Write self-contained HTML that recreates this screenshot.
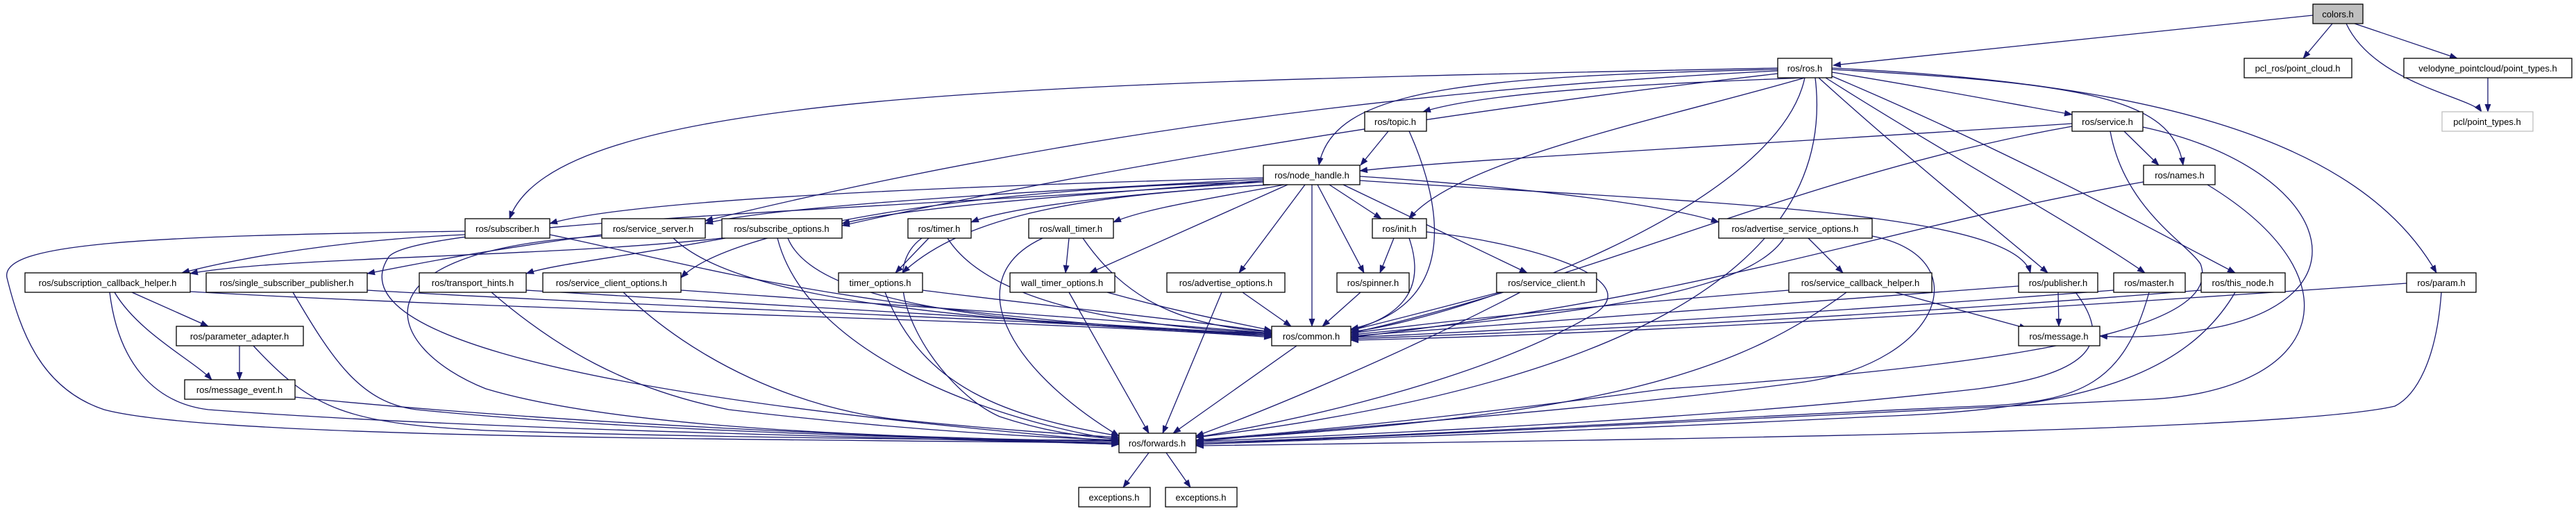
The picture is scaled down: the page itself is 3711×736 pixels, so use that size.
<!DOCTYPE html>
<html><head><meta charset="utf-8"><style>
html,body{margin:0;padding:0;background:#fff;width:3711px;height:736px;overflow:hidden}
svg text{font-family:"Liberation Sans",sans-serif;font-size:13px;fill:#000}
.e path{fill:none;stroke:#191970;stroke-width:1.3}
rect{fill:#fff;stroke:#000;stroke-width:1.3}
</style></head><body>
<svg width="3711" height="736" xmlns="http://www.w3.org/2000/svg">
<defs><marker id="a" markerWidth="12" markerHeight="9" refX="11" refY="4.5" orient="auto" markerUnits="userSpaceOnUse"><path d="M0,0 L12,4.5 L0,9 z" fill="#191970"/></marker></defs>
<g class="e">
<path marker-end="url(#a)" d="M3332,22 L2641,94"/>
<path marker-end="url(#a)" d="M3360,34 L3318,84"/>
<path marker-end="url(#a)" d="M3392,34 L3540,84"/>
<path marker-end="url(#a)" d="M3380,34 C3420,120 3560,140 3575,161"/>
<path marker-end="url(#a)" d="M3584,112 L3584,161"/>
<!-- ros.h -->
<path marker-end="url(#a)" d="M2600,112 C2400,120 2150,130 2050,161"/>
<path marker-end="url(#a)" d="M2639,104 C2800,130 2900,150 2985,165"/>
<path marker-end="url(#a)" d="M2561,100 C2100,110 1920,130 1900,238"/>
<path marker-end="url(#a)" d="M2639,100 C3000,120 3130,140 3145,238"/>
<path marker-end="url(#a)" d="M2561,98 C1500,120 800,130 734,315"/>
<path marker-end="url(#a)" d="M2561,102 C1800,140 1300,250 1016,318"/>
<path marker-end="url(#a)" d="M2561,106 C2000,170 1500,260 1213,325"/>
<path marker-end="url(#a)" d="M2600,112 C2400,170 2100,230 2030,315"/>
<path marker-end="url(#a)" d="M2620,112 C2750,230 2900,350 2950,393"/>
<path marker-end="url(#a)" d="M2630,112 C2800,220 3000,330 3090,393"/>
<path marker-end="url(#a)" d="M2635,108 C2900,220 3100,330 3220,393"/>
<path marker-end="url(#a)" d="M2639,98 C3100,120 3400,200 3510,393"/>
<path marker-end="url(#a)" d="M2600,112 C2560,300 2100,460 1946,478"/>
<path marker-end="url(#a)" d="M2615,112 C2650,400 2300,560 1723,630"/>
<!-- topic -->
<path marker-end="url(#a)" d="M2000,189 L1960,238"/>
<path marker-end="url(#a)" d="M2030,189 C2080,300 2100,440 1946,474"/>
<!-- service -->
<path marker-end="url(#a)" d="M2985,178 C2500,210 2100,230 1959,246"/>
<path marker-end="url(#a)" d="M3060,189 L3110,238"/>
<path marker-end="url(#a)" d="M2985,182 C2600,250 2300,400 1946,480"/>
<path marker-end="url(#a)" d="M3040,189 C3060,300 3150,350 3170,380 C3200,460 3000,520 2400,560 C2100,600 1900,620 1723,634"/>
<path marker-end="url(#a)" d="M3087,183 C3350,240 3420,420 3200,470 C3100,490 3040,485 3025,484"/>
<!-- names -->
<path marker-end="url(#a)" d="M3088,262 C2700,330 2500,420 1946,486"/>
<path marker-end="url(#a)" d="M3180,266 C3400,400 3350,560 3100,575 C2800,590 2200,620 1723,640"/>
<!-- node_handle -->
<path marker-end="url(#a)" d="M1820,256 C1300,270 900,290 792,322"/>
<path marker-end="url(#a)" d="M1820,258 C1400,280 1100,300 1016,322"/>
<path marker-end="url(#a)" d="M1820,260 C1500,285 1300,300 1213,322"/>
<path marker-end="url(#a)" d="M1830,266 C1600,280 1450,300 1399,320"/>
<path marker-end="url(#a)" d="M1850,266 C1750,285 1650,300 1604,320"/>
<path marker-end="url(#a)" d="M1915,266 L1990,315"/>
<path marker-end="url(#a)" d="M1959,254 C2200,270 2400,295 2476,320"/>
<path marker-end="url(#a)" d="M1830,266 C1600,280 1400,300 1300,393"/>
<path marker-end="url(#a)" d="M1855,266 L1570,393"/>
<path marker-end="url(#a)" d="M1880,266 L1785,393"/>
<path marker-end="url(#a)" d="M1898,266 L1965,393"/>
<path marker-end="url(#a)" d="M1935,266 L2200,393"/>
<path marker-end="url(#a)" d="M1959,260 C2400,290 2900,300 2925,393"/>
<path marker-end="url(#a)" d="M1820,262 C1400,270 1050,330 981,400"/>
<path marker-end="url(#a)" d="M1890,266 L1890,470"/>
<path marker-end="url(#a)" d="M1820,262 C1300,300 600,320 560,370 C500,460 700,560 1612,636"/>
<!-- row4 -->
<path marker-end="url(#a)" d="M670,338 C500,345 350,370 262,393"/>
<path marker-end="url(#a)" d="M792,338 C1000,380 1200,450 1832,484"/>
<path marker-end="url(#a)" d="M670,333 C200,340 0,350 10,400 C30,480 60,560 150,590 C300,630 1000,632 1612,638"/>
<path marker-end="url(#a)" d="M867,338 C700,360 600,380 529,394"/>
<path marker-end="url(#a)" d="M970,343 C1050,420 1300,460 1832,482"/>
<path marker-end="url(#a)" d="M867,340 C500,360 550,500 700,560 C900,620 1300,630 1612,636"/>
<path marker-end="url(#a)" d="M1040,343 C800,370 400,370 274,394"/>
<path marker-end="url(#a)" d="M1045,343 C900,370 800,380 758,394"/>
<path marker-end="url(#a)" d="M1135,343 C1170,430 1400,470 1832,480"/>
<path marker-end="url(#a)" d="M1120,343 C1160,500 1400,600 1612,634"/>
<path marker-end="url(#a)" d="M1338,343 L1290,393"/>
<path marker-end="url(#a)" d="M1365,343 C1420,430 1600,470 1832,480"/>
<path marker-end="url(#a)" d="M1328,343 C1250,400 1350,560 1440,600 C1500,620 1560,630 1612,632"/>
<path marker-end="url(#a)" d="M1540,343 L1535,393"/>
<path marker-end="url(#a)" d="M1560,343 C1620,430 1700,470 1832,478"/>
<path marker-end="url(#a)" d="M1502,343 C1380,400 1450,530 1612,628"/>
<path marker-end="url(#a)" d="M2008,343 L1988,393"/>
<path marker-end="url(#a)" d="M2030,343 C2060,430 2000,460 1946,476"/>
<path marker-end="url(#a)" d="M2055,334 C2200,350 2370,400 2300,450 C2150,540 1900,600 1723,630"/>
<path marker-end="url(#a)" d="M2605,343 L2655,393"/>
<path marker-end="url(#a)" d="M2570,343 C2520,420 2300,450 1946,482"/>
<path marker-end="url(#a)" d="M2697,340 C2850,370 2800,520 2600,550 C2300,590 2000,610 1723,636"/>
<!-- row5 -->
<path marker-end="url(#a)" d="M274,420 C800,450 1500,460 1832,486"/>
<path marker-end="url(#a)" d="M158,421 C170,520 220,580 300,590 C700,620 1300,630 1612,640"/>
<path marker-end="url(#a)" d="M190,421 L300,470"/>
<path marker-end="url(#a)" d="M165,421 C200,480 280,520 305,547"/>
<path marker-end="url(#a)" d="M529,418 C900,440 1500,460 1832,484"/>
<path marker-end="url(#a)" d="M422,421 C480,520 520,580 600,590 C900,620 1300,630 1612,638"/>
<path marker-end="url(#a)" d="M758,418 C1100,440 1500,460 1832,482"/>
<path marker-end="url(#a)" d="M708,421 C800,500 900,560 1050,590 C1300,620 1500,630 1612,634"/>
<path marker-end="url(#a)" d="M981,418 C1300,440 1600,460 1832,480"/>
<path marker-end="url(#a)" d="M898,421 C1000,520 1150,590 1300,605 C1450,620 1550,626 1612,630"/>
<path marker-end="url(#a)" d="M1329,418 C1500,440 1700,460 1832,478"/>
<path marker-end="url(#a)" d="M1275,421 C1330,560 1450,600 1612,628"/>
<path marker-end="url(#a)" d="M1595,421 C1700,450 1780,465 1832,476"/>
<path marker-end="url(#a)" d="M1540,421 L1655,624"/>
<path marker-end="url(#a)" d="M1790,421 L1860,470"/>
<path marker-end="url(#a)" d="M1760,421 L1675,624"/>
<path marker-end="url(#a)" d="M1960,421 L1905,470"/>
<path marker-end="url(#a)" d="M2160,421 C2050,450 1990,465 1946,476"/>
<path marker-end="url(#a)" d="M2190,421 C2000,520 1800,600 1723,628"/>
<path marker-end="url(#a)" d="M2577,418 C2300,440 2100,460 1946,480"/>
<path marker-end="url(#a)" d="M2660,421 C2500,540 2300,600 1723,634"/>
<path marker-end="url(#a)" d="M2730,421 L2920,473"/>
<path marker-end="url(#a)" d="M2965,421 L2966,470"/>
<path marker-end="url(#a)" d="M2908,412 C2500,440 2200,465 1946,484"/>
<path marker-end="url(#a)" d="M2990,421 C3050,500 3000,540 2850,560 C2500,600 2100,620 1723,636"/>
<path marker-end="url(#a)" d="M3045,418 C2700,445 2300,470 1946,486"/>
<path marker-end="url(#a)" d="M3096,421 C3060,550 3000,580 2850,585 C2500,600 2100,625 1723,638"/>
<path marker-end="url(#a)" d="M3171,418 C2800,448 2400,472 1946,488"/>
<path marker-end="url(#a)" d="M3220,421 C3150,540 3000,590 2700,600 C2300,620 2000,630 1723,640"/>
<path marker-end="url(#a)" d="M3467,408 C3000,440 2400,480 1946,490"/>
<path marker-end="url(#a)" d="M3517,421 C3510,520 3480,570 3450,585 C3300,620 2500,632 1723,642"/>
<!-- lower -->
<path marker-end="url(#a)" d="M345,498 L345,547"/>
<path marker-end="url(#a)" d="M365,498 C450,590 500,610 700,620 C1000,630 1400,634 1612,634"/>
<path marker-end="url(#a)" d="M425,572 C800,610 1300,630 1612,640"/>
<path marker-end="url(#a)" d="M1868,498 L1690,624"/>
<path marker-end="url(#a)" d="M1655,652 L1618,702"/>
<path marker-end="url(#a)" d="M1680,652 L1715,702"/>
</g>
<g>
<rect x="3332" y="6" width="72" height="28" style="fill:#bfbfbf"/><text x="3368" y="25" text-anchor="middle">colors.h</text>
<rect x="2561" y="84" width="78" height="28"/><text x="2600" y="103" text-anchor="middle">ros/ros.h</text>
<rect x="3233" y="84" width="155" height="28"/><text x="3310" y="103" text-anchor="middle">pcl_ros/point_cloud.h</text>
<rect x="3463" y="84" width="242" height="28"/><text x="3584" y="103" text-anchor="middle">velodyne_pointcloud/point_types.h</text>
<rect x="3518" y="161" width="131" height="28" style="stroke:#bfbfbf"/><text x="3583" y="180" text-anchor="middle">pcl/point_types.h</text>
<rect x="1966" y="161" width="89" height="28"/><text x="2010" y="180" text-anchor="middle">ros/topic.h</text>
<rect x="2985" y="161" width="102" height="28"/><text x="3036" y="180" text-anchor="middle">ros/service.h</text>
<rect x="1820" y="238" width="139" height="28"/><text x="1890" y="257" text-anchor="middle">ros/node_handle.h</text>
<rect x="3088" y="238" width="103" height="28"/><text x="3140" y="257" text-anchor="middle">ros/names.h</text>
<rect x="670" y="315" width="122" height="28"/><text x="731" y="334" text-anchor="middle">ros/subscriber.h</text>
<rect x="867" y="315" width="149" height="28"/><text x="941" y="334" text-anchor="middle">ros/service_server.h</text>
<rect x="1040" y="315" width="173" height="28"/><text x="1126" y="334" text-anchor="middle">ros/subscribe_options.h</text>
<rect x="1308" y="315" width="91" height="28"/><text x="1353" y="334" text-anchor="middle">ros/timer.h</text>
<rect x="1482" y="315" width="122" height="28"/><text x="1543" y="334" text-anchor="middle">ros/wall_timer.h</text>
<rect x="1977" y="315" width="78" height="28"/><text x="2016" y="334" text-anchor="middle">ros/init.h</text>
<rect x="2476" y="315" width="221" height="28"/><text x="2586" y="334" text-anchor="middle">ros/advertise_service_options.h</text>
<rect x="36" y="393" width="238" height="28"/><text x="155" y="412" text-anchor="middle">ros/subscription_callback_helper.h</text>
<rect x="297" y="393" width="232" height="28"/><text x="413" y="412" text-anchor="middle">ros/single_subscriber_publisher.h</text>
<rect x="604" y="393" width="154" height="28"/><text x="681" y="412" text-anchor="middle">ros/transport_hints.h</text>
<rect x="782" y="393" width="199" height="28"/><text x="881" y="412" text-anchor="middle">ros/service_client_options.h</text>
<rect x="1208" y="393" width="121" height="28"/><text x="1268" y="412" text-anchor="middle">timer_options.h</text>
<rect x="1455" y="393" width="151" height="28"/><text x="1530" y="412" text-anchor="middle">wall_timer_options.h</text>
<rect x="1681" y="393" width="170" height="28"/><text x="1766" y="412" text-anchor="middle">ros/advertise_options.h</text>
<rect x="1926" y="393" width="104" height="28"/><text x="1978" y="412" text-anchor="middle">ros/spinner.h</text>
<rect x="2156" y="393" width="144" height="28"/><text x="2228" y="412" text-anchor="middle">ros/service_client.h</text>
<rect x="2577" y="393" width="206" height="28"/><text x="2680" y="412" text-anchor="middle">ros/service_callback_helper.h</text>
<rect x="2908" y="393" width="114" height="28"/><text x="2965" y="412" text-anchor="middle">ros/publisher.h</text>
<rect x="3045" y="393" width="103" height="28"/><text x="3096" y="412" text-anchor="middle">ros/master.h</text>
<rect x="3171" y="393" width="121" height="28"/><text x="3231" y="412" text-anchor="middle">ros/this_node.h</text>
<rect x="3467" y="393" width="100" height="28"/><text x="3517" y="412" text-anchor="middle">ros/param.h</text>
<rect x="254" y="470" width="183" height="28"/><text x="345" y="489" text-anchor="middle">ros/parameter_adapter.h</text>
<rect x="1832" y="470" width="114" height="28"/><text x="1889" y="489" text-anchor="middle">ros/common.h</text>
<rect x="2908" y="470" width="117" height="28"/><text x="2966" y="489" text-anchor="middle">ros/message.h</text>
<rect x="266" y="547" width="159" height="28"/><text x="345" y="566" text-anchor="middle">ros/message_event.h</text>
<rect x="1612" y="624" width="111" height="28"/><text x="1667" y="643" text-anchor="middle">ros/forwards.h</text>
<rect x="1554" y="702" width="103" height="28"/><text x="1605" y="721" text-anchor="middle">exceptions.h</text>
<rect x="1679" y="702" width="103" height="28"/><text x="1730" y="721" text-anchor="middle">exceptions.h</text>
</g>
</svg>
</body></html>
